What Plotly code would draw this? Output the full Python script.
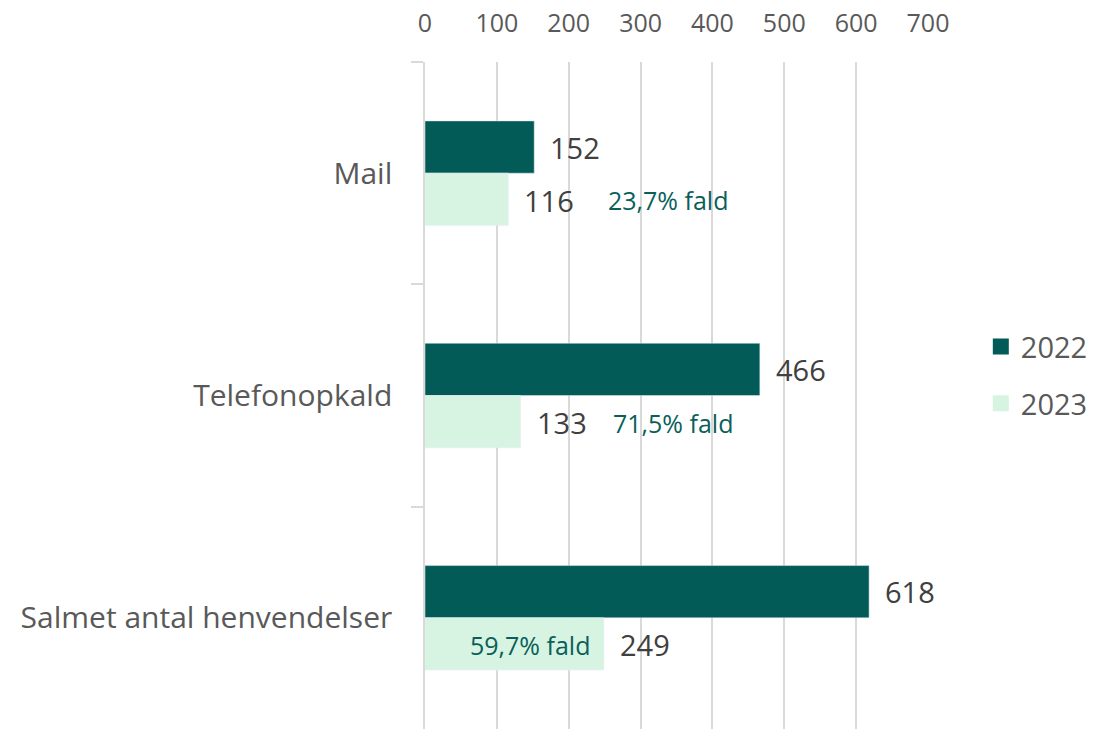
import plotly.graph_objects as go

categories = ["Mail", "Telefonopkald", "Salmet antal henvendelser"]
values_2022 = [152, 466, 618]
values_2023 = [116, 133, 249]
change_labels = ["23,7% fald", "71,5% fald", "59,7% fald"]
series_names = ["2022", "2023"]
x_ticks = [0, 100, 200, 300, 400, 500, 600, 700]

DARK = "#035b58"
LIGHT = "#d7f4e3"
FONT = "Open Sans"

fig = go.Figure()
fig.add_trace(go.Bar(y=categories, x=values_2022, orientation="h", marker_color=DARK,
                     name=series_names[0], showlegend=False, hoverinfo="x"))
fig.add_trace(go.Bar(y=categories, x=values_2023, orientation="h", marker_color=LIGHT,
                     name=series_names[1], showlegend=False, hoverinfo="x"))
# legend proxies (square markers)
fig.add_trace(go.Scatter(x=[None], y=[None], mode="markers", name=series_names[0],
                         marker=dict(symbol="square", size=16, color=DARK), legendgroup="a"))
fig.add_trace(go.Scatter(x=[None], y=[None], mode="markers", name=series_names[1],
                         marker=dict(symbol="square", size=16, color=LIGHT), legendgroup="b"))

annotations = []
for cat, v22, v23 in zip(categories, values_2022, values_2023):
    annotations.append(dict(x=v22, y=cat, xref="x", yref="y", text=str(v22), showarrow=False,
                            xanchor="left", xshift=14, yshift=26,
                            font=dict(family=FONT, size=29, color="#404040")))
    annotations.append(dict(x=v23, y=cat, xref="x", yref="y", text=str(v23), showarrow=False,
                            xanchor="left", xshift=14, yshift=-27,
                            font=dict(family=FONT, size=29, color="#404040")))

# percentage change notes
pct_pos = [(252, "left", 0), (259, "left", 0), (249, "right", -12)]
for cat, lab, (px, anc, sh) in zip(categories, change_labels, pct_pos):
    annotations.append(dict(x=px, y=cat, xref="x", yref="y", text=lab, showarrow=False,
                            xanchor=anc, xshift=sh, yshift=-27,
                            font=dict(family=FONT, size=25, color="#0b5f5b")))

fig.update_layout(
    width=1117, height=729,
    margin=dict(l=425, r=189, t=62, b=0),
    paper_bgcolor="white", plot_bgcolor="white",
    barmode="group", bargap=0.53, bargroupgap=0,
    annotations=annotations,
    legend=dict(x=1.105, y=0.5305, xanchor="left", yanchor="middle",
                font=dict(family=FONT, size=29, color="#595959"),
                tracegroupgap=16, itemwidth=30,
                bgcolor="rgba(0,0,0,0)"),
    xaxis=dict(range=[0, 700], side="top", tickvals=x_ticks, showgrid=True,
               gridcolor="#d9d9d9", gridwidth=1.5, zeroline=False, showline=False,
               ticks="", ticklabelstandoff=24, automargin=False,
               tickfont=dict(family=FONT, size=25, color="#595959")),
    yaxis=dict(autorange="reversed", type="category", showgrid=False, zeroline=False,
               ticks="outside", ticklen=12, tickcolor="#d9d9d9", tickwidth=1.5,
               tickson="boundaries", showline=True, linecolor="#d9d9d9", linewidth=1.5,
               ticklabelstandoff=25, automargin=False,
               tickfont=dict(family=FONT, size=30, color="#595959")),
    font=dict(family=FONT),
)

fig.write_html("out.html", config={"displayModeBar": False},
               post_script="document.body.style.margin='0';document.body.style.overflow='hidden';")
